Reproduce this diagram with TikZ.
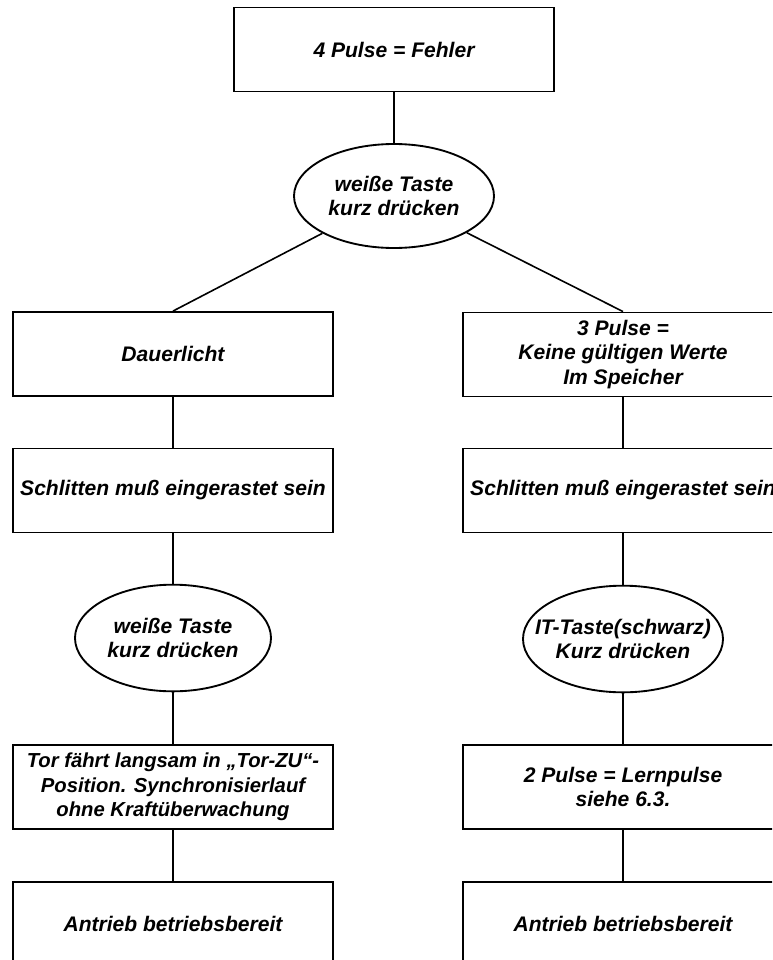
\documentclass[tikz,border=0pt]{standalone}
\usepackage{fontspec}
\setmainfont{Liberation Sans}
\usetikzlibrary{shapes.geometric}
\tikzset{
  txt/.style={font=\fontsize{15.8pt}{18.4pt}\selectfont\bfseries\itshape, align=center, inner sep=0pt},
  boxnode/.style={txt, draw, line width=1.4pt, rectangle, minimum width=240pt, minimum height=63pt},
  ellnode/.style={draw, line width=1.4pt, ellipse, inner sep=0pt},
  conn/.style={line width=1.2pt}
}
\begin{document}
\begin{tikzpicture}[x=0.75pt,y=-0.75pt]
\clip (0,0) rectangle (772,960);
\fill[white] (0,0) rectangle (772,960);
% top
\node[boxnode] (top) at (394,49.5) {4 Pulse = Fehler};
\node[ellnode, minimum width=150pt, minimum height=78pt] (e1) at (394,196) {};
\node[txt] (e1t) at (394,196) {weiße Taste\\kurz drücken};
% left column
\node[boxnode] (L1) at (173,354) {Dauerlicht};
\node[boxnode] (L2) at (173,490.5) {Schlitten muß eingerastet sein};
\node[ellnode, minimum width=147pt, minimum height=80pt] (e2) at (173,638) {};
\node[txt] (e2t) at (173,638) {weiße Taste\\kurz drücken};
\node[boxnode, font=\fontsize{15.2pt}{18.4pt}\selectfont\bfseries\itshape] (L3) at (173,787) {Tor fährt langsam in „Tor-ZU“-\\Position. Synchronisierlauf\\ohne Kraftüberwachung};
\node[boxnode] (L4) at (173,924) {Antrieb betriebsbereit};
% right column
\node[boxnode] (R1) at (623,354.5) {3 Pulse =\\Keine gültigen Werte\\Im Speicher};
\node[boxnode] (R2) at (623,490.5) {Schlitten muß eingerastet sein};
\node[ellnode, minimum width=150pt, minimum height=80pt] (e3) at (623,639) {};
\node[txt] (e3t) at (623,639) {IT-Taste(schwarz)\\Kurz drücken};
\node[boxnode] (R3) at (623,787) {2 Pulse = Lernpulse\\siehe 6.3.};
\node[boxnode] (R4) at (623,924) {Antrieb betriebsbereit};
% connectors
\draw[conn] (top) -- (e1);
\draw[conn] (e1) -- (L1.north);
\draw[conn] (e1) -- (R1.north);
\draw[conn] (L1) -- (L2);
\draw[conn] (L2) -- (e2);
\draw[conn] (e2) -- (L3);
\draw[conn] (L3) -- (L4);
\draw[conn] (R1) -- (R2);
\draw[conn] (R2) -- (e3);
\draw[conn] (e3) -- (R3);
\draw[conn] (R3) -- (R4);
\end{tikzpicture}
\end{document}
